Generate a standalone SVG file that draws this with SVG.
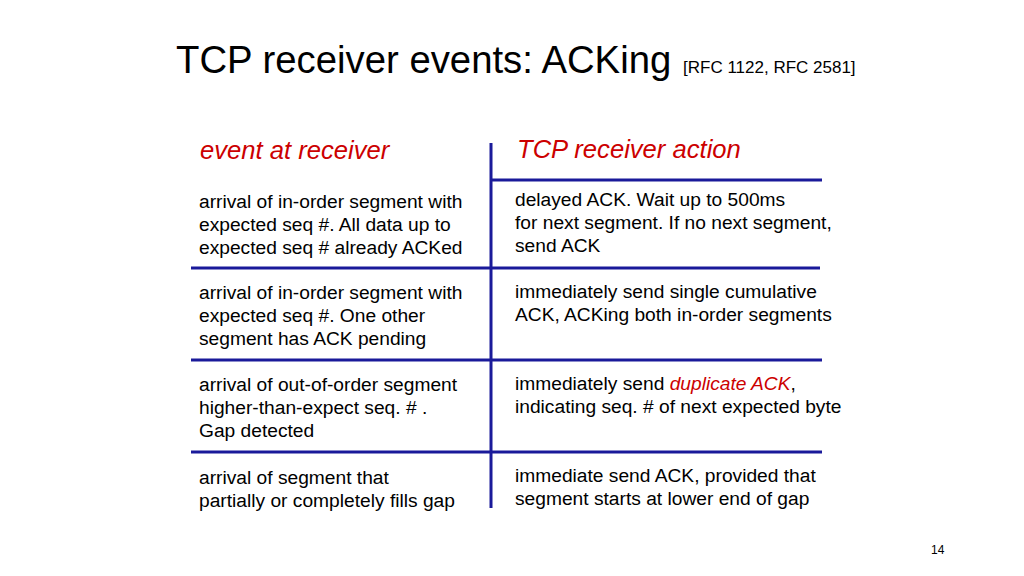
<svg xmlns="http://www.w3.org/2000/svg" width="1024" height="576" viewBox="0 0 1024 576">
<style>
text{font-family:"Liberation Sans",Arial,sans-serif;fill:#000}
.t{font-size:19.2px}
.h{font-size:25.6px;font-style:italic;fill:#cc0000}
.r{fill:#cc0000;font-style:italic}
line{stroke:#1a1a9a;stroke-width:3}
</style>
<rect width="1024" height="576" fill="#fff"/>
<text x="176" y="73" font-size="38.3">TCP receiver events: ACKing</text>
<text x="683" y="73" font-size="17">[RFC 1122, RFC 2581]</text>
<g id="connectors">
<line x1="491" y1="143" x2="491" y2="508"/>
<line x1="491" y1="180" x2="822" y2="180"/>
<line x1="191" y1="268" x2="820" y2="268"/>
<line x1="191" y1="360" x2="822" y2="360"/>
<line x1="191" y1="452" x2="822" y2="452"/>
</g>
<g id="hdr-left"><text class="h" x="200" y="159">event at receiver</text></g>
<g id="hdr-right"><text class="h" x="517" y="158">TCP receiver action</text></g>
<g id="e1"><text class="t" x="199" y="208">arrival of in-order segment with</text><text class="t" x="199" y="231">expected seq #. All data up to</text><text class="t" x="199" y="254">expected seq # already ACKed</text></g>
<g id="a1"><text class="t" x="515" y="206">delayed ACK. Wait up to 500ms</text><text class="t" x="515" y="229">for next segment. If no next segment,</text><text class="t" x="515" y="252">send ACK</text></g>
<g id="e2"><text class="t" x="199" y="299">arrival of in-order segment with</text><text class="t" x="199" y="322">expected seq #. One other</text><text class="t" x="199" y="345">segment has ACK pending</text></g>
<g id="a2"><text class="t" x="515" y="298">immediately send single cumulative</text><text class="t" x="515" y="321">ACK, ACKing both in-order segments</text></g>
<g id="e3"><text class="t" x="199" y="391">arrival of out-of-order segment</text><text class="t" x="199" y="414">higher-than-expect seq. # .</text><text class="t" x="199" y="437">Gap detected</text></g>
<g id="a3"><text class="t" x="515" y="390">immediately send <tspan class="r">duplicate ACK</tspan>,</text><text class="t" x="515" y="413">indicating seq. # of next expected byte</text></g>
<g id="e4"><text class="t" x="199" y="484">arrival of segment that</text><text class="t" x="199" y="507">partially or completely fills gap</text></g>
<g id="a4"><text class="t" x="515" y="482">immediate send ACK, provided that</text><text class="t" x="515" y="505">segment starts at lower end of gap</text></g>
<text x="931" y="554" font-size="12">14</text>
</svg>
